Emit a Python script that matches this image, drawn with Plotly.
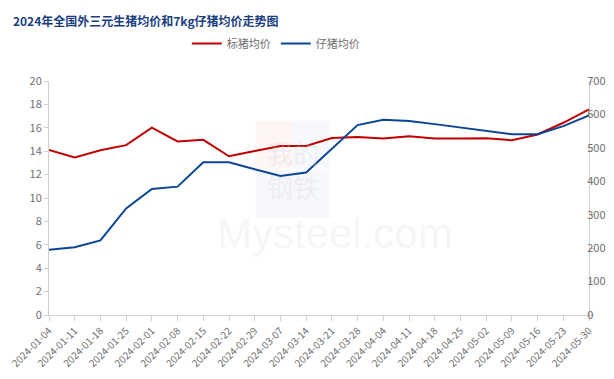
import plotly.graph_objects as go

dates = ["2024-01-04", "2024-01-11", "2024-01-18", "2024-01-25", "2024-02-01", "2024-02-08",
         "2024-02-15", "2024-02-22", "2024-02-29", "2024-03-07", "2024-03-14", "2024-03-21",
         "2024-03-28", "2024-04-04", "2024-04-11", "2024-04-18", "2024-04-25", "2024-05-02",
         "2024-05-09", "2024-05-16", "2024-05-23", "2024-05-30"]
hog_price = [14.10, 13.46, 14.08, 14.52, 16.01, 14.83, 14.97, 13.57, 14.02, 14.44, 14.44, 15.12,
             15.22, 15.08, 15.27, 15.08, 15.08, 15.10, 14.94, 15.43, 16.43, 17.57]
piglet_price = [195, 203, 223, 319, 377, 384, 457, 457, 436, 416, 426, 497,
                568, 584, 580, 571, 561, 551, 541, 541, 565, 597]

left_ticks = [0, 2, 4, 6, 8, 10, 12, 14, 16, 18, 20]
right_ticks = [0, 100, 200, 300, 400, 500, 600, 700]

RED = "#C00000"
BLUE = "#0B4596"
GRAY = "#707070"
AXIS = "#D0D0D0"
FONT = "Noto Sans CJK SC"

fig = go.Figure()
fig.add_trace(go.Scatter(x=dates, y=hog_price, name="标猪均价", mode="lines",
                         line=dict(color=RED, width=2), yaxis="y"))
fig.add_trace(go.Scatter(x=dates, y=piglet_price, name="仔猪均价", mode="lines",
                         line=dict(color=BLUE, width=2), yaxis="y2"))

# watermark (very faint)
for (x0, x1, y0, y1, col) in [
    (0.383, 0.452, 0.83, 0.625, "rgba(235,90,70,0.06)"),
    (0.452, 0.521, 0.83, 0.625, "rgba(40,70,160,0.04)"),
    (0.383, 0.452, 0.62, 0.415, "rgba(40,70,160,0.04)"),
    (0.452, 0.521, 0.62, 0.415, "rgba(40,70,160,0.04)"),
]:
    fig.add_shape(type="rect", xref="paper", yref="paper", x0=x0, x1=x1, y0=y0, y1=y1,
                  fillcolor=col, line=dict(width=0), layer="below")
fig.add_annotation(xref="paper", yref="paper", x=0.452, y=0.6225, text="我的<br>钢铁",
                   showarrow=False,
                   font=dict(family=FONT, size=26, color="rgba(210,212,225,0.3)"))
fig.add_annotation(xref="paper", yref="paper", x=0.53, y=0.24, text="Mysteel.com",
                   showarrow=False,
                   font=dict(family="Liberation Sans", size=42, color="rgba(235,235,235,0.45)"))

fig.update_layout(
    width=614, height=379,
    margin=dict(l=41, r=33, t=73, b=72, autoexpand=False),
    paper_bgcolor="white", plot_bgcolor="white",
    font=dict(family=FONT, size=11, color=GRAY),
    title=dict(text="<b>2024年全国外三元生猪均价和7kg仔猪均价走势图</b>",
               x=0.008, xanchor="left", y=0.975, yanchor="top",
               font=dict(family=FONT, size=12, color="#1A3F80")),
    showlegend=True,
    legend=dict(orientation="h", x=0.42, xanchor="center", y=1.16, yanchor="middle",
                font=dict(family=FONT, size=11, color=GRAY), itemwidth=30,
                bgcolor="rgba(0,0,0,0)"),
    xaxis=dict(type="category", range=[0, len(dates) - 1], showgrid=False,
               showline=True, linecolor=AXIS, linewidth=1, automargin=False,
               ticks="outside", tickcolor=AXIS, ticklen=5, tickangle=-45,
               tickfont=dict(size=10, color=GRAY, family=FONT), zeroline=False),
    yaxis=dict(range=[0, 20], tickvals=left_ticks, showgrid=False, automargin=False,
               showline=True, linecolor=AXIS, linewidth=1,
               ticks="outside", tickcolor=AXIS, ticklen=4,
               tickfont=dict(size=11, color=GRAY, family=FONT), zeroline=False),
    yaxis2=dict(range=[0, 700], tickvals=right_ticks, overlaying="y", side="right",
                showgrid=False, showline=True, linecolor=AXIS, linewidth=1, automargin=False,
                ticks="outside", tickcolor=AXIS, ticklen=4, ticklabelstandoff=-9,
                tickfont=dict(size=11, color=GRAY, family=FONT), zeroline=False),
)

fig.write_html("out.html")
